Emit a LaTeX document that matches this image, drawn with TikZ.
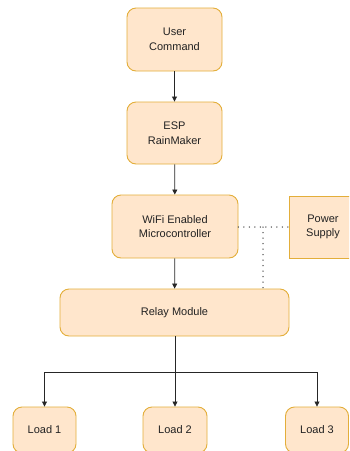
\documentclass[tikz,border=0pt]{standalone}
\usepackage{fontspec}
\setmainfont{Liberation Sans}
\usetikzlibrary{arrows.meta}
\definecolor{boxfill}{HTML}{FFE6CC}
\definecolor{boxline}{HTML}{E3AE3A}
\definecolor{txt}{HTML}{222222}

\begin{document}
\begin{tikzpicture}[x=1pt,y=-1pt,
    box/.style={draw=boxline,fill=boxfill,rounded corners=9pt,line width=0.9pt,
        align=center,font=\fontsize{11}{14.5}\selectfont,text=txt,inner sep=0pt},
    arr/.style={draw=black!85,line width=0.8pt,-{Triangle[length=5pt,width=5pt]}},
    link/.style={draw=black!70,line width=1.5pt,line cap=round,dash pattern=on 0pt off 5.5pt}]
    \useasboundingbox (0,0) rectangle (349,451);
    \clip (0,0) rectangle (349,451);
    \node[box,minimum width=95pt,minimum height=63pt] (user) at (174.5,39.5) {User\\Command};
    \node[box,minimum width=95pt,minimum height=62pt] (esp) at (174.5,133) {ESP\\RainMaker};
    \node[box,minimum width=126pt,minimum height=63pt] (mcu) at (175,226.5) {WiFi Enabled\\Microcontroller};
    \node[box,rounded corners=0pt,minimum width=68pt,minimum height=62pt] (power) at (323,227) {Power\\Supply};
    \node[box,minimum width=229pt,minimum height=47pt] (relay) at (174.5,312.5) {Relay Module};
    \node[box,minimum width=63pt,minimum height=46pt] (load1) at (44.5,430) {Load 1};
    \node[box,minimum width=64pt,minimum height=46pt] (load2) at (175,430) {Load 2};
    \node[box,minimum width=63pt,minimum height=46pt] (load3) at (317,430) {Load 3};
    \coordinate (tap) at (263,227);
    \coordinate (split) at (175,372);
    \draw[arr] (user) -- (esp);
    \draw[arr] (esp) -- (mcu);
    \draw[arr] (mcu) -- (relay);
    \draw[link] (mcu.east |- tap) -- (power.west |- tap);
    \draw[link] (tap) -- (tap |- relay.north);
    \draw[arr] (relay.south -| split) -- (load2.north);
    \draw[arr] (split) -| (load1.north);
    \draw[arr] (split) -| (load3.north);
\end{tikzpicture}
\end{document}
